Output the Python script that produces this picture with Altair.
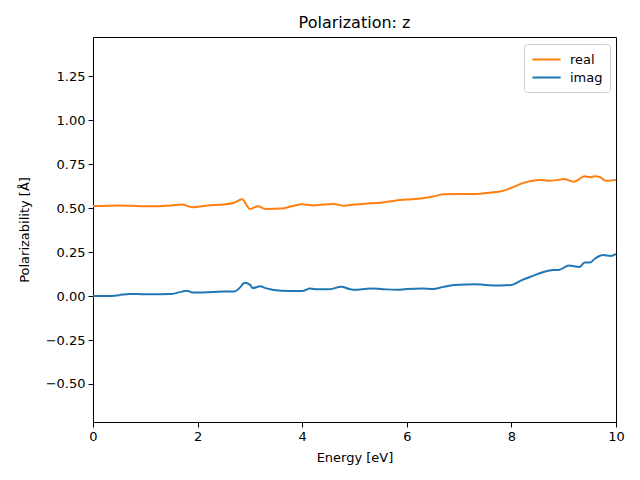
import altair as alt
import pandas as pd

real_x = [0.0, 0.5, 1.0, 1.5, 1.7, 1.9, 2.2, 2.5, 2.7, 2.85, 3.0, 3.15, 3.3, 3.6, 3.8, 4.0, 4.2, 4.4, 4.6, 4.8,
          5.0, 5.2, 5.5, 5.8, 6.0, 6.3, 6.5, 6.7, 7.0, 7.3, 7.5, 7.8, 8.0, 8.2, 8.4, 8.55, 8.7, 8.9, 9.0, 9.2,
          9.4, 9.5, 9.6, 9.7, 9.8, 10.0]
real_y = [0.511, 0.515, 0.51, 0.515, 0.52, 0.505, 0.515, 0.52, 0.53, 0.55, 0.495, 0.51, 0.495, 0.497, 0.51, 0.522,
          0.515, 0.52, 0.523, 0.513, 0.52, 0.525, 0.53, 0.543, 0.548, 0.555, 0.565, 0.578, 0.58, 0.58, 0.585, 0.595,
          0.615, 0.64, 0.655, 0.66, 0.655, 0.66, 0.665, 0.65, 0.68, 0.675, 0.68, 0.675, 0.655, 0.66]

imag_x = [0.0, 0.3, 0.5, 0.7, 1.0, 1.5, 1.7, 1.8, 1.9, 2.1, 2.5, 2.7, 2.8, 2.9, 3.0, 3.05, 3.2, 3.3, 3.6, 4.0,
          4.15, 4.3, 4.5, 4.75, 4.9, 5.0, 5.3, 5.5, 5.8, 6.0, 6.3, 6.5, 6.7, 6.9, 7.1, 7.3, 7.5, 7.8, 8.0, 8.2,
          8.4, 8.6, 8.8, 8.9, 9.1, 9.3, 9.4, 9.5, 9.6, 9.75, 9.9, 10.0]
imag_y = [0.0, 0.0, 0.005, 0.012, 0.01, 0.012, 0.025, 0.03, 0.02, 0.02, 0.025, 0.025, 0.045, 0.075, 0.065, 0.045,
          0.055, 0.045, 0.03, 0.028, 0.042, 0.038, 0.038, 0.052, 0.04, 0.035, 0.042, 0.04, 0.035, 0.04, 0.042, 0.04,
          0.052, 0.063, 0.065, 0.067, 0.063, 0.06, 0.063, 0.09, 0.113, 0.135, 0.148, 0.148, 0.173, 0.165, 0.19,
          0.19, 0.213, 0.233, 0.228, 0.24]

series = ["real", "imag"]
colors = ["#ff7f0e", "#1f77b4"]

df = pd.concat([
    pd.DataFrame({"x": real_x, "y": real_y, "s": "real"}),
    pd.DataFrame({"x": imag_x, "y": imag_y, "s": "imag"}),
])

font = "DejaVu Sans"

chart = alt.Chart(df).mark_line(strokeWidth=2, interpolate="monotone").encode(
    x=alt.X("x:Q", scale=alt.Scale(domain=[0, 10], nice=False, zero=False),
            axis=alt.Axis(title="Energy [eV]", values=[0, 2, 4, 6, 8, 10], format="d")),
    y=alt.Y("y:Q", scale=alt.Scale(domain=[-0.716, 1.472], nice=False, zero=False),
            axis=alt.Axis(title="Polarizability [Å]",
                          values=[-0.5, -0.25, 0, 0.25, 0.5, 0.75, 1.0, 1.25], format=".2f")),
    color=alt.Color("s:N", scale=alt.Scale(domain=series, range=colors),
                    legend=alt.Legend(title=None, orient="none", legendX=431, legendY=7,
                                      symbolType="M-2,0H2", symbolSize=200, symbolStrokeWidth=2,
                                      symbolOffset=7,
                                      labelFontSize=13, labelFont=font, strokeColor="#cccccc",
                                      fillColor="white", padding=7, cornerRadius=3,
                                      rowPadding=2, labelOffset=15)),
    order=alt.Order("x:Q"),
).properties(
    width=523, height=385,
    title=alt.TitleParams("Polarization: z", fontSize=16, font=font, fontWeight="normal", offset=6),
    autosize=alt.AutoSizeParams(type="none"),
    padding={"left": 85, "top": 29, "right": 16, "bottom": 50},
).configure_view(
    stroke="black", strokeWidth=1
).configure_axis(
    labelFont=font, titleFont=font, labelFontSize=13, titleFontSize=13,
    titleFontWeight="normal", labelColor="black", titleColor="black",
    tickColor="black", domainColor="black", tickSize=5, grid=False, labelPadding=3,
    labelFlush=False,
).configure_axisX(titlePadding=8).configure_axisY(titlePadding=14)

chart.save("out.html", embed_options={"renderer": "svg", "actions": False})
